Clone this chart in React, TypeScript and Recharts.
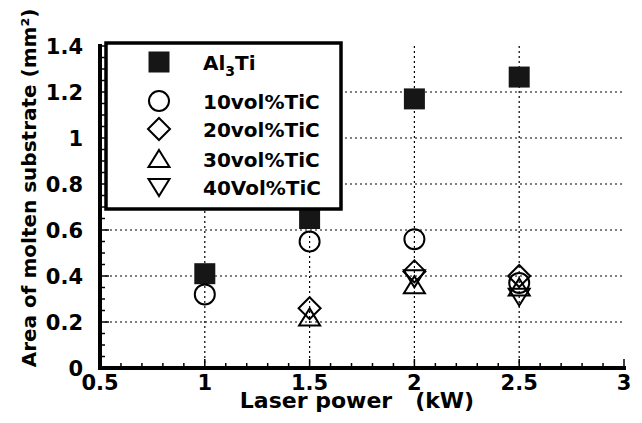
import React from "react";
import { CartesianGrid, Label, Scatter, ScatterChart, XAxis, YAxis } from "recharts";

// laser power (kW) where the samples were taken
const powers = [1, 1.5, 2, 2.5];

// area of molten substrate (mm^2)
const al3ti = [0.41, 0.65, 1.17, 1.265];
const tic10 = [0.32, 0.55, 0.56, 0.37];
const tic20 = [null, 0.26, 0.42, 0.4];
const tic30 = [null, 0.22, 0.36, 0.35];
const tic40 = [null, null, 0.39, 0.31];

const xMajor = [0.5, 1, 1.5, 2, 2.5, 3];
const yMajor = [0, 0.2, 0.4, 0.6, 0.8, 1, 1.2, 1.4];
const xTicks = [
  0.5, 0.6, 0.7, 0.8, 0.9, 1, 1.1, 1.2, 1.3, 1.4, 1.5, 1.6, 1.7, 1.8, 1.9, 2,
  2.1, 2.2, 2.3, 2.4, 2.5, 2.6, 2.7, 2.8, 2.9, 3,
];
const yTicks = [
  0, 0.05, 0.1, 0.15, 0.2, 0.25, 0.3, 0.35, 0.4, 0.45, 0.5, 0.55, 0.6, 0.65, 0.7,
  0.75, 0.8, 0.85, 0.9, 0.95, 1, 1.05, 1.1, 1.15, 1.2, 1.25, 1.3, 1.35, 1.4,
];
const xGrid = [1, 1.5, 2, 2.5];
const yGrid = [0.2, 0.4, 0.6, 0.8, 1, 1.2];

type Kind = "square" | "circle" | "diamond" | "up" | "down";

const series: { key: string; label: string; kind: Kind; values: (number | null)[] }[] = [
  { key: "al3ti", label: "Al3Ti", kind: "square", values: al3ti },
  { key: "tic10", label: "10vol%TiC", kind: "circle", values: tic10 },
  { key: "tic20", label: "20vol%TiC", kind: "diamond", values: tic20 },
  { key: "tic30", label: "30vol%TiC", kind: "up", values: tic30 },
  { key: "tic40", label: "40Vol%TiC", kind: "down", values: tic40 },
];

const font = { fontFamily: "'DejaVu Sans', sans-serif", fontWeight: 700 };
const ink = "#000";

function Marker({ kind, cx, cy }: { kind: Kind; cx: number; cy: number }) {
  const common = { fill: "none", stroke: ink, strokeWidth: 2, strokeLinejoin: "miter" as const };
  switch (kind) {
    case "square":
      return <rect x={cx - 10.5} y={cy - 10.5} width={21} height={21} fill="#161616" />;
    case "circle":
      return <circle cx={cx} cy={cy} r={10} {...common} />;
    case "diamond":
      return <polygon points={`${cx},${cy - 11} ${cx + 11},${cy} ${cx},${cy + 11} ${cx - 11},${cy}`} {...common} />;
    case "up":
      return <polygon points={`${cx},${cy - 9} ${cx + 10.5},${cy + 8} ${cx - 10.5},${cy + 8}`} {...common} />;
    default:
      return <polygon points={`${cx - 10.5},${cy - 8} ${cx + 10.5},${cy - 8} ${cx},${cy + 9}`} {...common} />;
  }
}

function BottomTick(props: any) {
  const { x, y, payload } = props;
  const major = xMajor.includes(payload.value);
  return (
    <g>
      <line x1={x} x2={x} y1={y} y2={y - (major ? 9 : 5)} stroke={ink} strokeWidth={1.5} />
      {major && (
        <text x={x} y={y + 22} textAnchor="middle" fontSize={21} fill={ink} style={font}>
          {String(payload.value)}
        </text>
      )}
    </g>
  );
}

function TopTick(props: any) {
  const { x, y, payload } = props;
  const major = xMajor.includes(payload.value);
  return <line x1={x} x2={x} y1={y} y2={y + (major ? 9 : 5)} stroke={ink} strokeWidth={1.5} />;
}

function LeftTick(props: any) {
  const { x, y, payload } = props;
  const major = yMajor.includes(payload.value);
  return (
    <g>
      <line x1={x} x2={x + (major ? 9 : 5)} y1={y} y2={y} stroke={ink} strokeWidth={1.5} />
      {major && (
        <text x={x - 17} y={y + 7.5} textAnchor="end" fontSize={21} fill={ink} style={font}>
          {String(payload.value)}
        </text>
      )}
    </g>
  );
}

function RightTick(props: any) {
  const { x, y, payload } = props;
  const major = yMajor.includes(payload.value);
  return <line x1={x} x2={x - (major ? 9 : 5)} y1={y} y2={y} stroke={ink} strokeWidth={1.5} />;
}

function LegendBox() {
  const rows = [21, 60, 88, 118, 146];
  return (
    <svg width={240} height={172} style={{ position: "absolute", left: 104, top: 41 }}>
      <rect x={2} y={2} width={235} height={166} fill="#fff" stroke={ink} strokeWidth={3.5} />
      {series.map((s, i) => (
        <g key={s.key}>
          <Marker kind={s.kind} cx={55} cy={rows[i]} />
          <text x={99} y={rows[i] + 7.5} fontSize={20} fill={ink} style={font}>
            {s.kind === "square" ? (
              <>
                Al<tspan dy={6} fontSize={14}>3</tspan>
                <tspan dy={-6}>Ti</tspan>
              </>
            ) : (
              s.label
            )}
          </text>
        </g>
      ))}
    </svg>
  );
}

const axisLine = { stroke: ink, strokeWidth: 4, strokeLinecap: "square" as const };

export default function App() {
  return (
    <div style={{ position: "absolute", left: 0, top: 0, width: 642, height: 423, background: "#fff" }}>
      <ScatterChart width={642} height={423} margin={{ top: 46, right: 18, bottom: 0, left: 0 }}>
        <CartesianGrid
          horizontalValues={yGrid}
          verticalValues={xGrid}
          stroke={ink}
          strokeWidth={1.2}
          strokeDasharray="2 3"
        />
        <XAxis
          xAxisId={0}
          type="number"
          dataKey="x"
          domain={[0.5, 3]}
          ticks={xTicks}
          interval={0}
          allowDataOverflow
          height={55}
          tickSize={0}
          tickMargin={0}
          tickLine={false}
          axisLine={axisLine}
          tick={BottomTick}
        >
          <Label
            content={(p: any) => {
              const vb = p.viewBox;
              return (
                <text
                  x={vb.x + vb.width / 2 - 5}
                  y={vb.y + 40}
                  textAnchor="middle"
                  fontSize={22}
                  fill={ink}
                  style={{ ...font, whiteSpace: "pre" }}
                >
                  {"Laser power   (kW)"}
                </text>
              );
            }}
          />
        </XAxis>
        <XAxis
          xAxisId="top"
          orientation="top"
          type="number"
          domain={[0.5, 3]}
          ticks={xTicks}
          interval={0}
          allowDataOverflow
          height={0}
          tickSize={0}
          tickMargin={0}
          tickLine={false}
          axisLine={axisLine}
          tick={TopTick}
        />
        <YAxis
          yAxisId={0}
          type="number"
          dataKey="y"
          domain={[0, 1.4]}
          ticks={yTicks}
          interval={0}
          allowDataOverflow
          width={100}
          tickSize={0}
          tickMargin={0}
          tickLine={false}
          axisLine={axisLine}
          tick={LeftTick}
        >
          <Label
            content={(p: any) => {
              const vb = p.viewBox;
              const cx = vb.x + 29;
              const cy = vb.y + vb.height / 2 - 19;
              return (
                <text
                  x={cx}
                  y={cy}
                  transform={`rotate(-90 ${cx} ${cy})`}
                  textAnchor="middle"
                  dominantBaseline="central"
                  fontSize={20}
                  fill={ink}
                  style={font}
                >
                  Area of molten substrate (mm²)
                </text>
              );
            }}
          />
        </YAxis>
        <YAxis
          yAxisId="right"
          orientation="right"
          type="number"
          domain={[0, 1.4]}
          ticks={yTicks}
          interval={0}
          allowDataOverflow
          width={0}
          tickSize={0}
          tickMargin={0}
          tickLine={false}
          axisLine={axisLine}
          tick={RightTick}
        />
        {series.map((s) => (
          <Scatter
            key={s.key}
            name={s.label}
            xAxisId={0}
            yAxisId={0}
            data={powers
              .map((x, i) => ({ x, y: s.values[i] }))
              .filter((d) => d.y !== null)}
            isAnimationActive={false}
            shape={(p: any) => <Marker kind={s.kind} cx={p.cx} cy={p.cy} />}
          />
        ))}
      </ScatterChart>
      <LegendBox />
    </div>
  );
}
